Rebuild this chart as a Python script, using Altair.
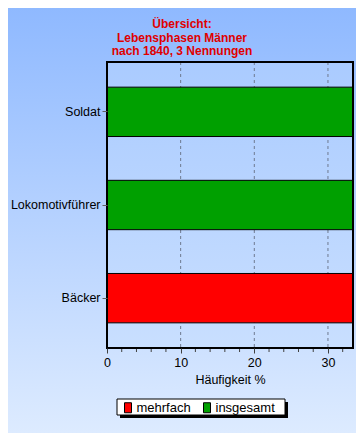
import altair as alt
import pandas as pd

# ---- data ----
categories = ["Soldat", "Lokomotivführer", "Bäcker"]
values = [33.33, 33.33, 33.33]
series = ["insgesamt", "insgesamt", "mehrfach"]
legend_order = ["mehrfach", "insgesamt"]
legend_colors = ["#FF0000", "#00A000"]
grid_values = [10, 20, 30]
major_ticks = [0, 10, 20, 30]
minor_ticks = [2, 4, 6, 8, 12, 14, 16, 18, 22, 24, 26, 28, 32]
title_lines = ["Übersicht:", "Lebensphasen Männer", "nach 1840, 3 Nennungen"]
x_title = "Häufigkeit %"
x_max = 33.4

# ---- layout ----
W, H = 246, 286
PAD = {"left": 99, "top": 54, "right": 3, "bottom": 85}
FONT = "Liberation Sans, Arial, sans-serif"
FS = 12.5

df = pd.DataFrame({"Beruf": categories, "Wert": values, "Typ": series})
grid_df = pd.DataFrame({"Wert": grid_values})
minor_df = pd.DataFrame({"Wert": minor_ticks})
one = pd.DataFrame({"k": [0]})

xscale = alt.Scale(domain=[0, x_max], nice=False, zero=True)


def vgrad(c0, c1):
    return alt.LinearGradient(
        gradient="linear",
        stops=[alt.GradientStop(color=c0, offset=0), alt.GradientStop(color=c1, offset=1)],
        x1=0, x2=0, y1=0, y2=1,
    )


def x_enc():
    return alt.X(
        "Wert:Q", scale=xscale,
        axis=alt.Axis(
            values=major_ticks, format="d", tickSize=5, tickColor="#404040",
            labelFont=FONT, labelFontSize=FS, labelColor="black", labelPadding=3,
            labelFlush=False, title=x_title, titleFont=FONT, titleFontSize=FS,
            titleFontWeight="normal", titleColor="black", titlePadding=5,
            domain=False, grid=False, zindex=1, orient="bottom",
        ),
    )


bg = alt.Chart(one).mark_rect(fill=vgrad("#8FB9FF", "#DDEBFF")).encode(
    x=alt.value(-PAD["left"]), x2=alt.value(W + PAD["right"]),
    y=alt.value(-PAD["top"]), y2=alt.value(H + PAD["bottom"]),
)

plot_bg = alt.Chart(one).mark_rect(fill=vgrad("#AACBFF", "#C9DFFF")).encode(
    x=alt.value(0), x2=alt.value(W), y=alt.value(0), y2=alt.value(H),
)

grid = alt.Chart(grid_df).mark_rule(color="#6E7A90", strokeDash=[3, 3], strokeWidth=1).encode(
    x=x_enc(), y=alt.value(0), y2=alt.value(H),
)

bars = alt.Chart(df).mark_bar(stroke="black", strokeWidth=1).encode(
    x=x_enc(),
    y=alt.Y(
        "Beruf:N", sort=categories,
        scale=alt.Scale(paddingInner=0.47, paddingOuter=0.27),
        axis=alt.Axis(
            title=None, domain=False, grid=False, tickSize=5, tickColor="#606060",
            labelFont=FONT, labelFontSize=FS, labelColor="black", labelPadding=2,
            zindex=1,
        ),
    ),
    color=alt.Color(
        "Typ:N",
        scale=alt.Scale(domain=legend_order, range=legend_colors),
        legend=alt.Legend(
            orient="none", legendX=14.5, legendY=339, direction="horizontal",
            title=None, symbolType="M-0.7,-1H0.7V1H-0.7Z", symbolSize=100,
            symbolStrokeColor="black", symbolStrokeWidth=1, symbolOpacity=1,
            labelFont=FONT, labelFontSize=13, labelColor="black", labelOffset=2,
            columnPadding=9, padding=0, zindex=2,
        ),
    ),
)

border = alt.Chart(one).mark_rect(fillOpacity=0, stroke="black", strokeWidth=2).encode(
    x=alt.value(0), x2=alt.value(W), y=alt.value(0), y2=alt.value(H),
)

minor = alt.Chart(minor_df).mark_rule(color="#404040", strokeWidth=1).encode(
    x=x_enc(), y=alt.value(H + 1), y2=alt.value(H + 4),
)

shadow = alt.Chart(one).mark_rect(fill="black").encode(
    x=alt.value(13), x2=alt.value(181), y=alt.value(340), y2=alt.value(356),
)
legend_box = alt.Chart(one).mark_rect(fill="white", stroke="black", strokeWidth=1).encode(
    x=alt.value(10), x2=alt.value(178), y=alt.value(337), y2=alt.value(353),
)

chart = alt.layer(bg, plot_bg, grid, bars, border, minor, shadow, legend_box).properties(
    width=W, height=H,
    autosize=alt.AutoSizeParams(type="none"),
    padding=PAD,
    title=alt.TitleParams(
        text=title_lines, color="#E00000", font=FONT, fontSize=12,
        fontWeight="bold", anchor="middle", dx=-48, offset=5, dy=55,
        lineHeight=13.5,
    ),
).configure_view(strokeWidth=0).configure(background="#8FB9FF")

chart.save("out.html", embed_options={"renderer": "svg", "actions": False})
